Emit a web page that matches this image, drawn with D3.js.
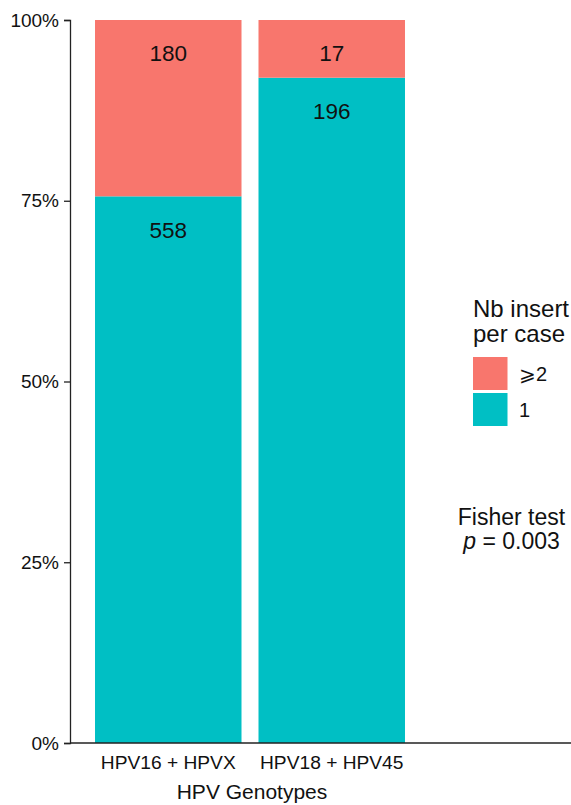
<!DOCTYPE html>
<html>
<head>
<meta charset="utf-8">
<script src="https://cdn.jsdelivr.net/npm/d3@7"></script>
<style>
  html, body { margin: 0; padding: 0; background: #fff; }
  svg { display: block; font-family: "Liberation Sans", Arial, Helvetica, sans-serif; }
</style>
</head>
<body>
<svg id="chart" width="571" height="805"></svg>
<script>
// ---- data ----
const categories = ["HPV16 + HPVX", "HPV18 + HPV45"];
const seriesNames = ["1", "⩾2"];           // stacking order bottom -> top
const countsOne = [558, 196];
const countsTwoPlus = [180, 17];
const yTicks = [0, 0.25, 0.5, 0.75, 1];
const legendTitle = ["Nb insert", "per case"];
const legendLabels = ["⩾2", "1"];
const xTitle = "HPV Genotypes";
const colors = { "1": "#00BFC4", "⩾2": "#F8766D" };

// ---- layout ----
const svg = d3.select("#chart");
const x = d3.scaleBand().domain(categories).range([70, 430]).paddingInner(0.104).paddingOuter(0.153);
const y = d3.scaleLinear().domain([0, 1]).range([743, 20]);

const rows = categories.map((c, i) => {
  const tot = countsOne[i] + countsTwoPlus[i];
  return { cat: c, "1": countsOne[i] / tot, "⩾2": countsTwoPlus[i] / tot, n1: countsOne[i], n2: countsTwoPlus[i] };
});
const stack = d3.stack().keys(seriesNames);
const series = stack(rows);

// bars
svg.append("g").selectAll("g").data(series).join("g")
  .attr("fill", d => colors[d.key])
  .selectAll("rect").data(d => d).join("rect")
  .attr("x", d => x(d.data.cat))
  .attr("width", x.bandwidth())
  .attr("y", d => y(d[1]))
  .attr("height", d => y(d[0]) - y(d[1]));

// count labels (near the top of each segment)
const labelG = svg.append("g").attr("font-size", 22.5).attr("fill", "#111").attr("text-anchor", "middle");
series.forEach(s => {
  s.forEach(d => {
    labelG.append("text")
      .attr("x", x(d.data.cat) + x.bandwidth() / 2)
      .attr("y", y(d[1]) + 33.7)
      .attr("dominant-baseline", "central")
      .text(s.key === "1" ? d.data.n1 : d.data.n2);
  });
});

// y axis
const yAxis = svg.append("g").attr("transform", "translate(70,0)")
  .call(d3.axisLeft(y).tickValues(yTicks).tickFormat(d3.format(".0%")).tickSize(6).tickPadding(5));
yAxis.select(".domain").attr("stroke", "#222").attr("stroke-width", 1.3);
yAxis.selectAll(".tick line").attr("stroke", "#222").attr("stroke-width", 1.3);
yAxis.selectAll(".tick text").attr("font-size", 19).attr("fill", "#111")
  .attr("font-family", "'Liberation Sans', Arial, sans-serif");

// x axis
const xAxis = svg.append("g").attr("transform", "translate(0,743)")
  .call(d3.axisBottom(x).tickSize(0).tickPadding(12));
xAxis.select(".domain").remove();
svg.append("line").attr("x1", 70).attr("x2", 571).attr("y1", 743).attr("y2", 743)
  .attr("stroke", "#222").attr("stroke-width", 1.3);
xAxis.selectAll(".tick text").attr("font-size", 19.2).attr("fill", "#111")
  .attr("font-family", "'Liberation Sans', Arial, sans-serif");

svg.append("text").attr("x", (x.range()[0] + x.range()[1]) / 2 + 2).attr("y", 799)
  .attr("text-anchor", "middle").attr("font-size", 21).attr("fill", "#111").text(xTitle);

// legend
const lg = svg.append("g");
legendTitle.forEach((t, i) => {
  lg.append("text").attr("x", 473).attr("y", 317 + i * 25).attr("font-size", 24).attr("fill", "#111").text(t);
});
legendLabels.forEach((lab, i) => {
  lg.append("rect").attr("x", 473).attr("y", 357 + i * 36).attr("width", 34.5).attr("height", 33)
    .attr("fill", colors[lab]);
  lg.append("text").attr("x", 519).attr("y", 357 + i * 36 + 16.5).attr("dominant-baseline", "central")
    .attr("font-size", 20).attr("fill", "#111").text(lab);
});

// Fisher test annotation
const ft = svg.append("g").attr("text-anchor", "middle").attr("font-size", 23).attr("fill", "#111");
ft.append("text").attr("x", 511.5).attr("y", 525).text("Fisher test");
const p = ft.append("text").attr("x", 511.5).attr("y", 549);
p.append("tspan").attr("font-style", "italic").text("p");
p.append("tspan").text(" = 0.003");
</script>
</body>
</html>
